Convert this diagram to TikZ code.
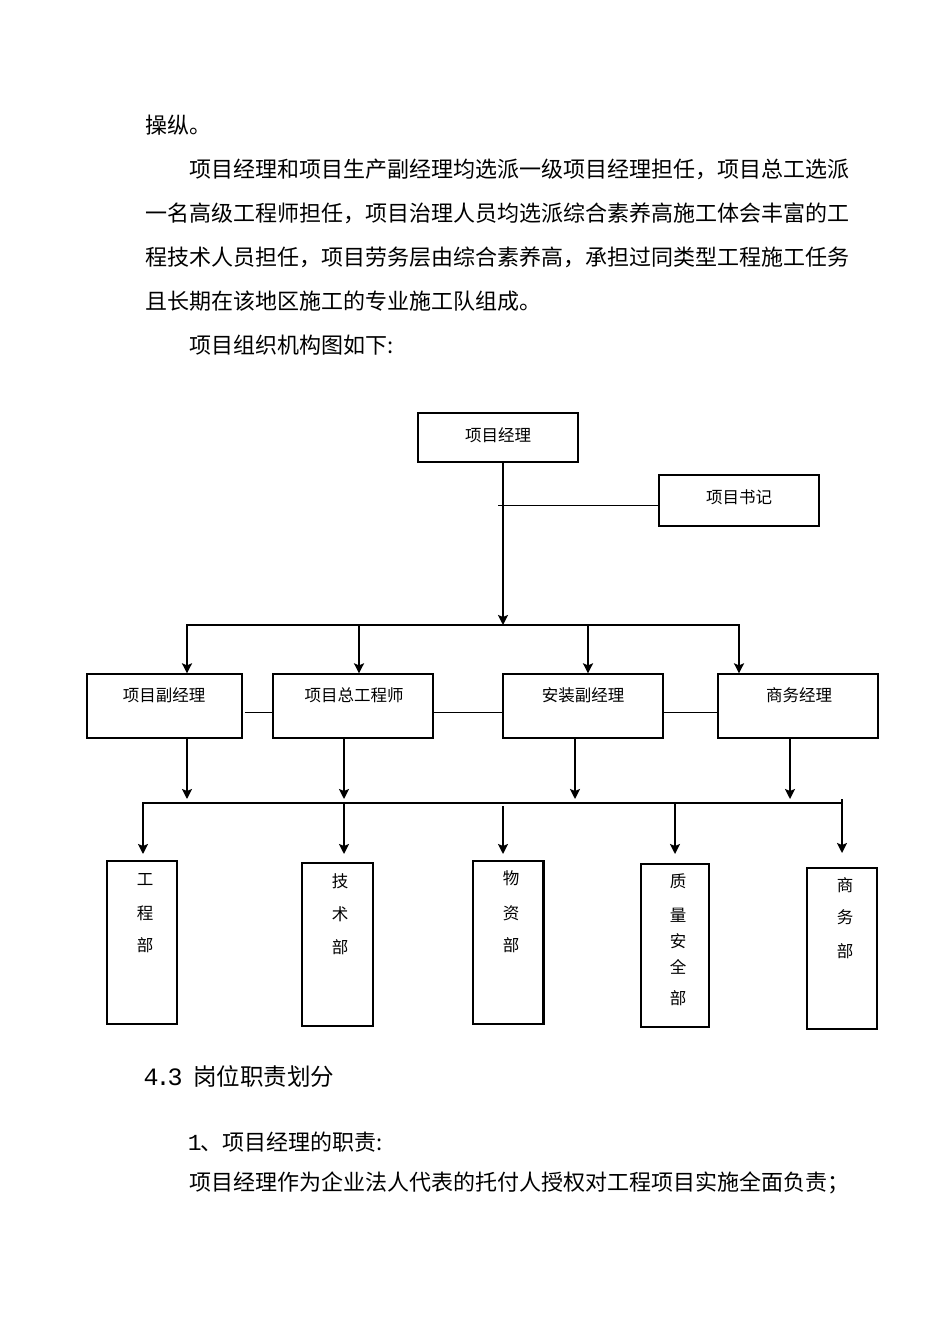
\documentclass[tikz,border=0pt]{standalone}
\usepackage{fontspec}
\setmainfont{Noto Sans CJK SC}
\newfontfamily\monofnt{Liberation Mono}
\usetikzlibrary{arrows.meta,calc}
\tikzset{
  box/.style={draw=black, line width=1.3pt, inner sep=0pt},
  conn/.style={draw=black, line width=1.9pt},
  arr/.style={conn, -{Stealth[length=10pt,width=10pt,inset=2pt]}},
  thinline/.style={draw=black, line width=1pt},
  body/.style={anchor=west, inner sep=0pt, font=\fontsize{22}{22}\selectfont},
  head/.style={anchor=west, inner sep=0pt, font=\fontsize{23.5}{23.5}\selectfont},
  lab/.style={inner sep=0pt, font=\fontsize{16.5}{16.5}\selectfont},
}
\begin{document}
\begin{tikzpicture}[x=1pt,y=-1pt]
\useasboundingbox (0,0) rectangle (950,1344);
\fill[white] (0,0) rectangle (950,1344);

% body text above
\node[body] (l1) at (145,125) {操纵。};
\node[body] (l2) at (189,169) {项目经理和项目生产副经理均选派一级项目经理担任，项目总工选派};
\node[body] (l3) at (145,213) {一名高级工程师担任，项目治理人员均选派综合素养高施工体会丰富的工};
\node[body] (l4) at (145,257) {程技术人员担任，项目劳务层由综合素养高，承担过同类型工程施工任务};
\node[body] (l5) at (145,301) {且长期在该地区施工的专业施工队组成。};
\node[body] (l6) at (189,345) {项目组织机构图如下:};

% top level
\node[box, minimum width=160pt, minimum height=49pt] (pm) at (498,437.5) {};
\node[lab] (pmt) at (498,435) {项目经理};
\node[box, minimum width=160pt, minimum height=51pt] (sec) at (739,500.5) {};
\node[lab] (sect) at (739,497) {项目书记};

% second level
\node[box, minimum width=155pt, minimum height=64pt] (b1) at (164.5,706) {};
\node[box, minimum width=160pt, minimum height=64pt] (b2) at (353,706) {};
\node[box, minimum width=160pt, minimum height=64pt] (b3) at (583,706) {};
\node[box, minimum width=160pt, minimum height=64pt] (b4) at (798,706) {};
\node[lab] (b1t) at (164,695) {项目副经理};
\node[lab] (b2t) at (354,695) {项目总工程师};
\node[lab] (b3t) at (583,695) {安装副经理};
\node[lab] (b4t) at (799,695) {商务经理};

% departments
\node[box, minimum width=70pt, minimum height=163pt] (d1) at (142,942.5) {};
\node[box, minimum width=71pt, minimum height=163pt] (d2) at (337.5,944.5) {};
\node[box, minimum width=70pt, minimum height=163pt] (d3) at (508,942.5) {};
\node[box, minimum width=68pt, minimum height=163pt] (d4) at (675,945.5) {};
\node[box, minimum width=70pt, minimum height=161pt] (d5) at (842,948.5) {};
\draw[line width=2.4pt] (d3.north east) -- (d3.south east);

\foreach \c/\y [count=\i] in {工/880,程/913,部/945}
  \node[lab] (d1c\i) at (145,\y) {\c};
\foreach \c/\y [count=\i] in {技/881,术/914,部/947}
  \node[lab] (d2c\i) at (340,\y) {\c};
\foreach \c/\y [count=\i] in {物/878,资/913,部/945}
  \node[lab] (d3c\i) at (511,\y) {\c};
\foreach \c/\y [count=\i] in {质/881,量/915,安/941,全/967,部/998}
  \node[lab] (d4c\i) at (678,\y) {\c};
\foreach \c/\y [count=\i] in {商/885,务/917,部/951}
  \node[lab] (d5c\i) at (845,\y) {\c};

% connectors: top
\coordinate (j0) at (503,625);
\coordinate (sj) at (498,505);
\draw[arr] ([xshift=5pt]pm.south) -- (j0);
\draw[thinline] (sec.west |- sj) -- (sj);

% first bus
\coordinate (t1) at (187,625);
\coordinate (t2) at (359,625);
\coordinate (t3) at (588,625);
\coordinate (t4) at (739,625);
\draw[arr] (t2) -| (t1 |- b1.north);
\draw[arr] (t2) -| (t4 |- b4.north);
\draw[arr] (t2) -- (t2 |- b2.north);
\draw[arr] (t3) -- (t3 |- b3.north);

% links between second-level boxes
\coordinate (hy) at (0,712);
\draw[thinline] ([xshift=2pt]b1.east |- hy) -- (b2.west |- hy);
\draw[thinline] (b2.east |- hy) -- (b3.west |- hy);
\draw[thinline] (b3.east |- hy) -- (b4.west |- hy);

% arrows down from second level
\coordinate (u1) at (187,799);
\coordinate (u2) at (344,799);
\coordinate (u3) at (575,799);
\coordinate (u4) at (790,799);
\draw[arr] (u1 |- b1.south) -- (u1);
\draw[arr] (u2 |- b2.south) -- (u2);
\draw[arr] (u3 |- b3.south) -- (u3);
\draw[arr] (u4 |- b4.south) -- (u4);

% second bus
\coordinate (v2) at (344,803);
\coordinate (v5) at (842,803);
\coordinate (e1) at (143,854);
\coordinate (e2) at (344,854);
\coordinate (e3) at (503,854);
\coordinate (e4) at (675,854);
\coordinate (e5) at (842,853);
\coordinate (w3) at (503,806);
\coordinate (w5) at (842,799);
\draw[arr] (v2) -| (e1);
\draw[conn] (v2) -- (v5);
\draw[arr] (v2) -- (e2);
\draw[arr] (w3) -- (e3);
\draw[arr] (e4 |- v2) -- (e4);
\draw[arr] (w5) -- (e5);

% text below
\node[head] (h43) at (145,1077) {{\monofnt\fontsize{25}{25}\selectfont\makebox[12pt]{4}\makebox[12pt]{.}\makebox[12pt]{3}\makebox[12pt]{}}岗位职责划分};
\node[body] (p1) at (189,1142) {{\monofnt\fontsize{23}{23}\selectfont\makebox[11pt]{1}}、项目经理的职责:};
\node[body] (p2) at (189,1183) {项目经理作为企业法人代表的托付人授权对工程项目实施全面负责；};
\end{tikzpicture}
\end{document}
